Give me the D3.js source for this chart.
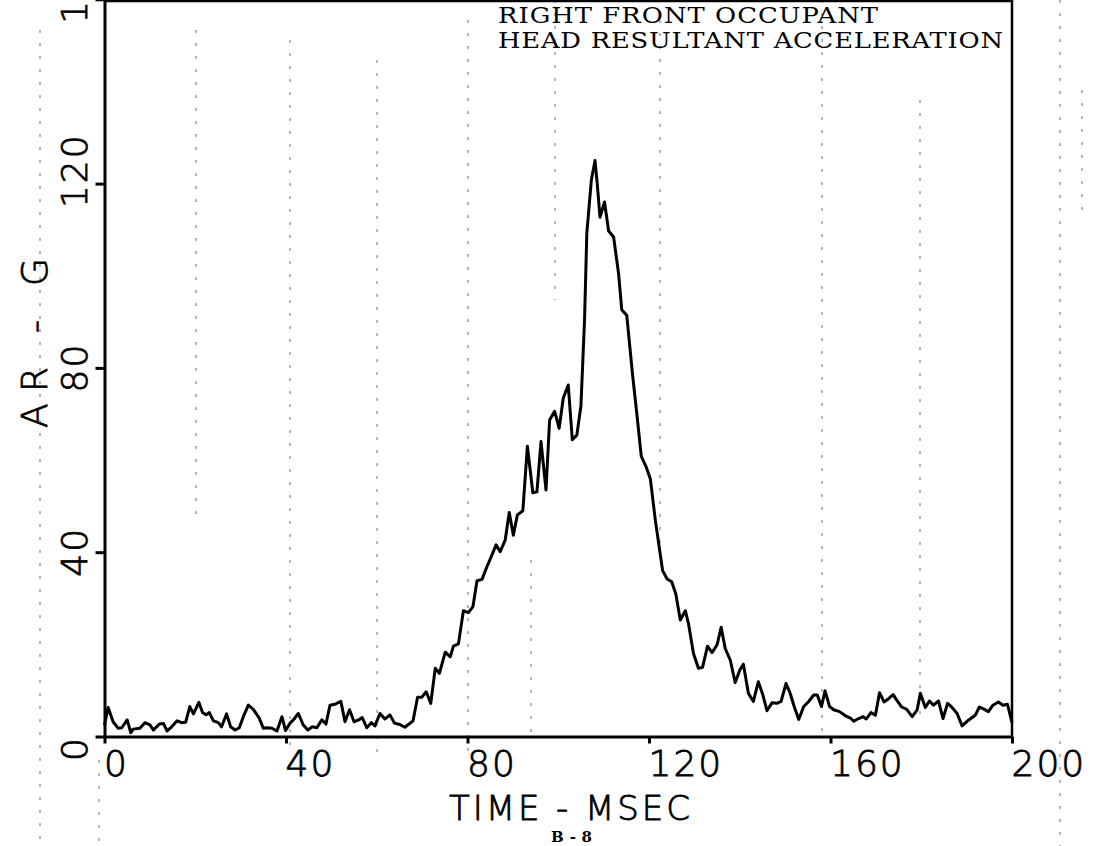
<!DOCTYPE html>
<html>
<head>
<meta charset="utf-8">
<script src="https://cdn.jsdelivr.net/npm/d3@7"></script>
<style>
  html, body { margin: 0; padding: 0; background: #fff; }
  svg { display: block; }
</style>
</head>
<body>
<svg id="chart" width="1094" height="846"></svg>
<script>
// Head resultant acceleration trace, sampled roughly every millisecond
const timeMs = [
  0.0, 0.8, 1.9, 3.0, 3.8, 5.0, 5.8, 6.3, 7.8, 8.9, 10.0, 10.8, 12.1, 13.0, 13.8, 14.8,
  16.0, 17.0, 17.9, 18.8, 19.6, 20.8, 21.6, 22.4, 23.1, 24.0, 25.1, 25.8, 26.9, 27.8,
  28.8, 29.7, 30.6, 31.7, 32.8, 34.1, 35.0, 35.8, 36.9, 38.0, 39.1, 39.9, 40.9, 41.8,
  42.7, 43.8, 44.8, 45.8, 46.8, 47.9, 48.8, 49.7, 50.8, 52.1, 53.0, 54.0, 55.0, 56.0,
  56.8, 57.8, 58.8, 59.6, 60.7, 61.8, 62.9, 63.9, 65.1, 66.2, 68.0, 69.0, 69.9, 70.9,
  71.9, 72.9, 73.8, 75.1, 76.2, 76.9, 78.0, 79.1, 80.2, 81.2, 82.1, 83.2, 84.3, 85.1,
  86.3, 87.2, 88.3, 89.2, 90.1, 91.0, 92.2, 93.2, 94.4, 95.3, 96.2, 97.3, 98.1, 99.2,
  100.2, 101.1, 102.2, 103.1, 104.1, 105.0, 105.8, 106.3, 107.3, 108.1, 108.6, 109.2,
  110.2, 111.1, 112.2, 113.3, 114.0, 115.1, 116.4, 117.3, 118.3, 119.3, 120.3, 121.4,
  123.0, 124.0, 125.0, 125.9, 126.9, 128.0, 128.7, 129.8, 130.9, 131.8, 132.9, 133.9,
  135.0, 135.9, 136.8, 137.9, 139.0, 140.0, 140.8, 141.9, 143.0, 144.1, 145.1, 146.0,
  147.1, 148.2, 149.1, 150.2, 151.1, 152.0, 153.0, 154.1, 155.2, 156.3, 157.1, 158.0,
  158.8, 159.8, 160.7, 162.0, 163.3, 164.4, 165.1, 166.2, 167.2, 167.9, 168.9, 169.9,
  170.8, 171.8, 172.8, 173.8, 174.6, 175.7, 176.8, 178.0, 179.1, 179.8, 180.9, 181.8,
  182.7, 183.8, 184.8, 185.8, 186.8, 187.9, 189.0, 190.1, 191.9, 192.8, 193.7, 194.8,
  195.8, 197.0, 198.0, 199.0, 199.5, 200.0
];
const accelG = [
  2.5, 6.3, 3.2, 1.8, 1.9, 3.6, 0.8, 1.6, 1.8, 3.0, 2.5, 1.4, 2.7, 2.8, 1.2, 2.1,
  3.4, 3.0, 3.1, 6.5, 4.9, 7.4, 5.2, 4.7, 5.2, 3.4, 3.0, 2.1, 4.9, 2.1,
  1.4, 1.9, 4.3, 6.8, 5.9, 4.0, 1.8, 1.9, 1.8, 1.2, 4.3, 1.3, 2.9, 3.8,
  5.0, 2.5, 1.4, 2.1, 1.9, 3.6, 2.7, 6.8, 7.0, 7.6, 3.2, 5.8, 3.2, 3.6,
  4.1, 1.9, 3.0, 2.3, 5.0, 3.8, 4.7, 2.9, 2.6, 2.0, 3.4, 8.5, 8.5, 9.7,
  7.2, 14.8, 13.7, 18.3, 17.3, 19.6, 20.1, 27.3, 26.9, 28.2, 33.8, 34.1, 36.9, 38.7,
  41.6, 40.1, 42.6, 48.6, 43.7, 48.1, 49.0, 63.0, 52.9, 53.1, 64.0, 53.5, 68.7, 70.6,
  66.9, 73.4, 76.3, 64.4, 65.4, 71.8, 90.6, 109.3, 120.8, 125.0, 119.9, 112.7,
  116.0, 109.7, 108.4, 100.4, 92.6, 91.4, 78.3, 70.2, 60.8, 58.7, 55.9, 46.9,
  36.0, 34.2, 33.6, 31.0, 25.3, 27.3, 24.5, 18.0, 14.8, 15.0, 19.6, 18.2,
  19.9, 23.7, 19.1, 16.6, 11.7, 14.4, 15.7, 9.4, 7.6, 11.9, 9.0, 5.6,
  7.3, 7.2, 7.6, 11.5, 9.4, 6.5, 3.7, 6.5, 7.6, 9.0, 9.0, 6.5,
  9.9, 6.5, 5.8, 5.4, 4.5, 4.0, 3.3, 3.9, 4.3, 3.8, 5.2, 4.6,
  9.5, 7.5, 8.2, 9.1, 7.9, 6.4, 5.9, 4.3, 5.8, 9.4, 6.3, 7.7,
  6.8, 7.7, 3.9, 7.2, 6.3, 5.0, 2.3, 3.3, 4.6, 6.4, 6.0, 5.4,
  6.8, 7.5, 6.8, 7.0, 5.0, 3.0
];

const timeTicks = [0, 40, 80, 120, 160, 200];
const accelTicks = [0, 40, 80, 120, 160];

const titleLines = ["RIGHT FRONT OCCUPANT", "HEAD RESULTANT ACCELERATION"];
const xTitle = "TIME - MSEC";
const yTitle = "AR - G";
const pageLabel = "B-8";

// Faint vertical streaks in the printed sheet: [x, yTop, yBottom]
const streaks = [
  [40, 30, 846], [99, 760, 846], [196, 30, 520], [290, 40, 745], [377, 60, 760],
  [468, 20, 760], [555, 0, 300], [531, 560, 740], [660, 20, 560], [822, 0, 740],
  [920, 100, 720], [1060, 0, 846], [1082, 90, 220]
];

const svg = d3.select("#chart");
const x = d3.scaleLinear().domain([0, 200]).range([104.5, 1012]);
const y = d3.scaleLinear().domain([0, 160]).range([736.5, -0.7]);

const plotterFont = "'DejaVu Sans', sans-serif";

// pen-plotter lettering: thin face with a light outline to give an even stroke
function plotterText(sel, size) {
  sel.attr("fill", "#000")
    .attr("stroke", "#000")
    .attr("stroke-width", 0.8)
    .attr("font-family", plotterFont)
    .attr("font-weight", 200)
    .attr("font-size", size);
}

// paper streaks
svg.append("g")
  .selectAll("line")
  .data(streaks)
  .join("line")
  .attr("x1", d => d[0]).attr("x2", d => d[0])
  .attr("y1", d => d[1]).attr("y2", d => d[2])
  .attr("stroke", "#666")
  .attr("stroke-width", 1.6)
  .attr("stroke-dasharray", "3,10")
  .attr("opacity", 0.6);

// bottom axis
const xAxis = svg.append("g")
  .attr("transform", `translate(0,${y(0)})`)
  .call(d3.axisBottom(x).tickValues(timeTicks).tickSize(7).tickSizeOuter(0).tickFormat(d3.format("d")));

xAxis.select(".domain").attr("stroke", "#000").attr("stroke-width", 3);
xAxis.selectAll(".tick line").attr("stroke", "#000").attr("stroke-width", 3);
xAxis.selectAll(".tick text")
  .call(plotterText, 36)
  .attr("letter-spacing", 2)
  .attr("text-anchor", "start")
  .attr("x", -1)
  .attr("y", 39)
  .attr("dy", 0);

// left axis
const yAxis = svg.append("g")
  .attr("transform", `translate(${x(0)},0)`)
  .call(d3.axisLeft(y).tickValues(accelTicks).tickSize(9).tickSizeOuter(0).tickFormat(d3.format("d")));

yAxis.select(".domain").attr("stroke", "#000").attr("stroke-width", 3);
yAxis.selectAll(".tick line").attr("stroke", "#000").attr("stroke-width", 3);
yAxis.selectAll(".tick text")
  .call(plotterText, 36)
  .attr("letter-spacing", 2)
  .attr("text-anchor", "start")
  .attr("transform", "rotate(-90)")
  .attr("x", -24)
  .attr("y", -18)
  .attr("dy", 0);

// top and right frame
const [x0, x1] = x.range();
const [yb, yt] = y.range();
svg.append("line")
  .attr("x1", x0).attr("x2", x1).attr("y1", 1).attr("y2", 1)
  .attr("stroke", "#000").attr("stroke-width", 2.5);
svg.append("line")
  .attr("x1", x1).attr("x2", x1).attr("y1", 0).attr("y2", yb)
  .attr("stroke", "#000").attr("stroke-width", 2.5);

// acceleration trace
const line = d3.line()
  .x((d, i) => x(timeMs[i]))
  .y(d => y(d));

svg.append("path")
  .datum(accelG)
  .attr("d", line)
  .attr("fill", "none")
  .attr("stroke", "#000")
  .attr("stroke-width", 3)
  .attr("stroke-linejoin", "round");

// axis titles
svg.append("text")
  .attr("x", 449).attr("y", 820)
  .call(plotterText, 34)
  .attr("textLength", 241)
  .attr("lengthAdjust", "spacing")
  .text(xTitle);

svg.append("text")
  .attr("transform", "translate(47,428) rotate(-90)")
  .call(plotterText, 36)
  .attr("textLength", 170)
  .attr("lengthAdjust", "spacing")
  .text(yTitle);

// chart title, typed in a wide typewriter-like serif
const titleStretch = 1.2;
svg.append("g")
  .attr("transform", `translate(498,0) scale(${titleStretch},1)`)
  .selectAll("text")
  .data(titleLines)
  .join("text")
  .attr("x", 0)
  .attr("y", (d, i) => 23 + i * 25)
  .attr("font-family", "'DejaVu Serif', serif")
  .attr("font-size", 21.5)
  .attr("textLength", (d, i) => (i === 0 ? 380 : 505) / titleStretch)
  .attr("lengthAdjust", "spacing")
  .attr("fill", "#000")
  .text(d => d);

// page number
svg.append("text")
  .attr("x", 551).attr("y", 842)
  .attr("font-family", "'DejaVu Serif', serif")
  .attr("font-weight", "bold")
  .attr("font-size", 15)
  .attr("textLength", 41)
  .attr("lengthAdjust", "spacing")
  .attr("fill", "#000")
  .text(pageLabel);
</script>
</body>
</html>
